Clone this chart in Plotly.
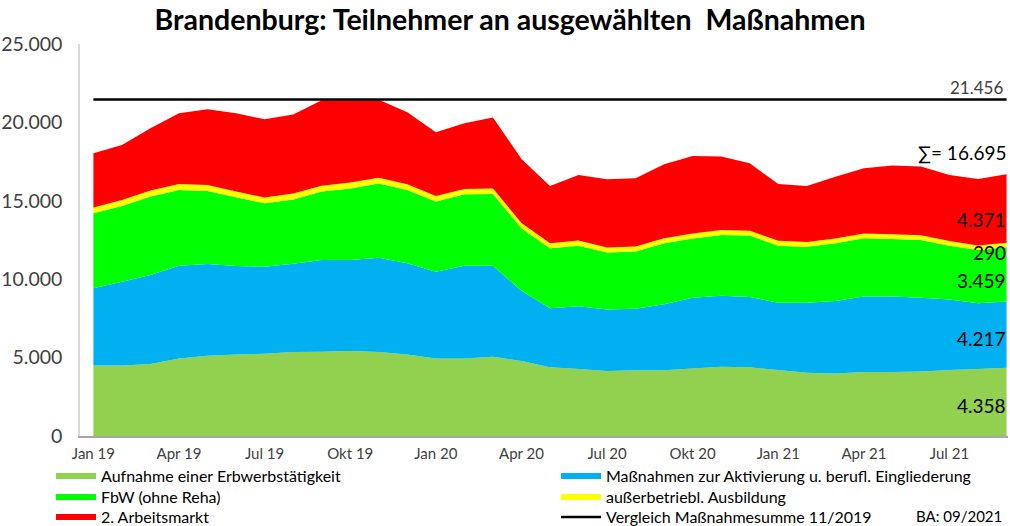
import plotly.graph_objects as go

# ---- data -------------------------------------------------------------
months = ["Jan 19", "Feb 19", "Mär 19", "Apr 19", "Mai 19", "Jun 19", "Jul 19", "Aug 19",
          "Sep 19", "Okt 19", "Nov 19", "Dez 19", "Jan 20", "Feb 20", "Mär 20", "Apr 20",
          "Mai 20", "Jun 20", "Jul 20", "Aug 20", "Sep 20", "Okt 20", "Nov 20", "Dez 20",
          "Jan 21", "Feb 21", "Mär 21", "Apr 21", "Mai 21", "Jun 21", "Jul 21", "Aug 21",
          "Sep 21"]

aufnahme = [4490, 4490, 4590, 4950, 5120, 5190, 5250, 5360, 5380, 5420, 5360, 5190,
            4950, 4950, 5060, 4780, 4380, 4270, 4150, 4190, 4190, 4310, 4420, 4380,
            4210, 4040, 3980, 4080, 4080, 4120, 4210, 4270, 4358]
aktivierung = [4930, 5350, 5680, 5910, 5850, 5650, 5550, 5630, 5850, 5800, 6010, 5820,
               5530, 5910, 5800, 4490, 3760, 4000, 3910, 3930, 4210, 4500, 4530, 4490,
               4290, 4460, 4630, 4810, 4810, 4700, 4490, 4190, 4217]
fbw = [4780, 4830, 5000, 4830, 4660, 4380, 4040, 4100, 4360, 4570, 4740, 4680,
       4470, 4550, 4570, 3980, 3830, 3870, 3640, 3640, 3890, 3790, 3870, 3910,
       3640, 3570, 3680, 3720, 3680, 3680, 3440, 3400, 3459]
ausbildung = [380, 380, 380, 380, 380, 370, 370, 370, 370, 370, 360, 360,
              350, 350, 350, 340, 330, 330, 320, 320, 320, 320, 320, 310,
              310, 310, 300, 300, 300, 300, 300, 290, 290]
arbeitsmarkt2 = [3450, 3510, 3980, 4510, 4830, 4990, 4990, 5050, 5450, 5330, 4970, 4590,
                 4070, 4180, 4540, 4080, 3650, 4180, 4360, 4360, 4720, 4940, 4680, 4300,
                 3620, 3560, 3950, 4170, 4380, 4380, 4210, 4240, 4371]
vergleich_11_2019 = 21456

series_names = ["Aufnahme einer Erbwerbstätigkeit",
                "Maßnahmen zur Aktivierung u. berufl. Eingliederung",
                "FbW (ohne Reha)",
                "außerbetriebl. Ausbildung",
                "2. Arbeitsmarkt"]
series_values = [aufnahme, aktivierung, fbw, ausbildung, arbeitsmarkt2]
series_colors = ["#92D050", "#00B0F0", "#00FF00", "#FFFF00", "#FF0000"]
line_name = "Vergleich Maßnahmesumme 11/2019"

y_ticks = [0, 5000, 10000, 15000, 20000, 25000]
y_ticktext = ["0", "5.000", "10.000", "15.000", "20.000", "25.000"]


def de(n):
    return f"{n:,}".replace(",", ".")


# ---- figure -----------------------------------------------------------
FONT = "Lato, 'Open Sans', sans-serif"
legend_ids = ["legend", "legend", "legend2", "legend2", "legend3"]

fig = go.Figure()
for name, vals, col, lg in zip(series_names, series_values, series_colors, legend_ids):
    fig.add_trace(go.Scatter(x=months, y=vals, name=name, stackgroup="one",
                             mode="none", fillcolor=col, legend=lg))
fig.add_trace(go.Scatter(x=months, y=[vergleich_11_2019] * len(months), name=line_name,
                         mode="lines", line=dict(color="black", width=2.5), legend="legend3"))

annotations = []
annotations.append(dict(x=1, xref="paper", y=vergleich_11_2019, yref="y",
                        text=de(vergleich_11_2019), showarrow=False, xanchor="right",
                        yanchor="bottom", xshift=-3,
                        font=dict(size=17, color="#404040", family=FONT)))
total_last = sum(v[-1] for v in series_values)
annotations.append(dict(x=1, xref="paper", y=18112, yref="y", text="∑= " + de(total_last),
                        showarrow=False, xanchor="right", yanchor="middle",
                        font=dict(size=19, color="black", family=FONT)))
label_y = [1977, 6250, 9949, 11735, 13776]
for vals, ly in zip(series_values, label_y):
    annotations.append(dict(x=1, xref="paper", y=ly, yref="y", text=de(vals[-1]),
                            showarrow=False, xanchor="right", yanchor="middle",
                            font=dict(size=19, color="black", family=FONT)))
annotations.append(dict(x=(1004 - 80) / 928, xref="paper", y=(436 - 516) / 392, yref="paper",
                        text="BA: 09/2021", showarrow=False, xanchor="right",
                        yanchor="middle", font=dict(size=15, color="black", family=FONT)))

legend_common = dict(orientation="h", xanchor="left", x=(51 - 80) / 928, yanchor="top",
                     entrywidth=450, entrywidthmode="pixels", itemwidth=40,
                     font=dict(size=16, color="black", family=FONT),
                     bgcolor="rgba(0,0,0,0)", traceorder="normal")

fig.update_layout(
    width=1010, height=526,
    margin=dict(l=80, r=2, t=44, b=90, autoexpand=False),
    paper_bgcolor="white", plot_bgcolor="white",
    font=dict(family=FONT, color="#404040"),
    title=dict(text="<b>Brandenburg: Teilnehmer an ausgewählten  Maßnahmen</b>",
               x=0.505, xanchor="center", y=0.962, yanchor="middle",
               font=dict(size=28.5, color="black", family=FONT)),
    xaxis=dict(type="category", range=[-0.47, 32.05], tickmode="array",
               tickvals=months[::3], ticktext=months[::3], showgrid=False,
               showline=True, linecolor="#A6A6A6", linewidth=2, ticks="",
               tickfont=dict(size=15, color="#404040", family=FONT), ticklabelstandoff=3),
    yaxis=dict(range=[0, 25000], tickvals=y_ticks, ticktext=y_ticktext, showgrid=False,
               zeroline=False, showline=True, linecolor="#D9D9D9", linewidth=1.5,
               ticks="", tickfont=dict(size=19.5, color="#404040", family=FONT),
               ticklabelstandoff=12),
    legend=dict(legend_common, y=(436 - 459) / 392),
    legend2=dict(legend_common, y=(436 - 480) / 392),
    legend3=dict(legend_common, y=(436 - 500) / 392),
    annotations=annotations,
    showlegend=True,
)

fig.write_html("out.html", config={"displayModeBar": False},
               post_script="document.body.style.margin='0';")
